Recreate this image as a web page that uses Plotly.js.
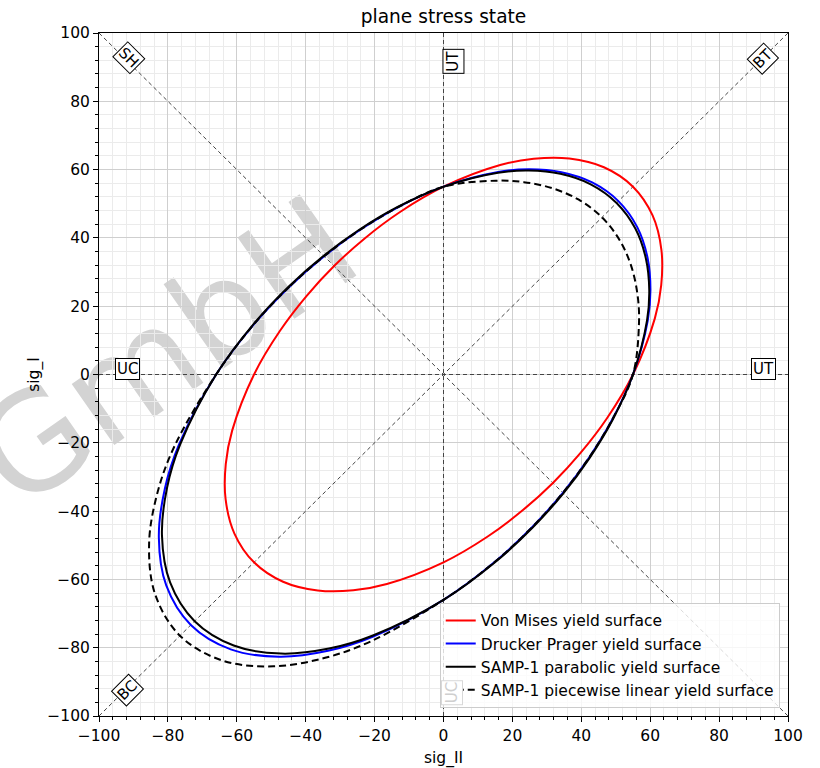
<!DOCTYPE html>
<html>
<head>
<meta charset="utf-8">
<script src="https://cdn.plot.ly/plotly-3.0.1.min.js"></script>
<style>
  html, body { margin: 0; padding: 0; background: #fff; }
  #chart { width: 820px; height: 768px; }
</style>
</head>
<body>
<div id="chart"></div>
<script>
// ---- Data (sig_II = x, sig_I = y) ----
var vonMisesX = [-31.76,-39.78,-47.51,-55.00,-61.35,-63.20,-63.25,-60.69,-55.00,-46.57,-36.52,-26.18,-16.44,0,12.73,22.97,31.76,39.78,47.51,55,61.35,63.20,63.25,60.69,55.00,46.57,36.52,26.18,16.44,0,-12.73,-22.97,-31.76];
var vonMisesY = [31.76,22.97,12.73,0,-16.44,-26.18,-36.52,-46.57,-55.00,-60.69,-63.25,-63.20,-61.35,-55,-47.51,-39.78,-31.76,-22.97,-12.73,0,16.44,26.18,36.52,46.57,55.00,60.69,63.25,63.20,61.35,55,47.51,39.78,31.76];

var druckerX = [-34.64,-44.65,-55.00,-66,-76.79,-80.90,-82.63,-80.48,-73.34,-61.76,-47.71,-33.51,-20.57,0,14.74,25.78,34.64,42.23,49.02,55,59.30,60.07,59.23,56.24,50.77,43.15,34.20,24.88,15.89,0,-13.13,-24.38,-34.64];
var druckerY = [34.64,25.78,14.74,0,-20.57,-33.51,-47.71,-61.76,-73.34,-80.48,-82.63,-80.90,-76.79,-66,-55.00,-44.65,-34.64,-24.38,-13.13,0,15.89,24.88,34.20,43.15,50.77,56.24,59.23,60.07,59.30,55,49.02,42.23,34.64];

var parabolicX = [-34.79,-44.82,-55.14,-66,-76.43,-80.26,-81.72,-79.36,-72.24,-60.89,-47.18,-33.24,-20.48,0,14.78,25.88,34.79,42.38,49.14,55,59.08,59.72,58.76,55.69,50.24,42.73,33.92,24.74,15.83,0,-13.17,-24.47,-34.79];
var parabolicY = [34.79,25.88,14.78,0,-20.48,-33.24,-47.18,-60.89,-72.24,-79.36,-81.72,-80.26,-76.43,-66,-55.14,-44.82,-34.79,-24.47,-13.17,0,15.83,24.74,33.92,42.73,50.24,55.69,58.76,59.72,59.08,55,49.14,42.38,34.79];

var piecewiseX = [-34.64,-44.65,-55.00,-66,-78.05,-82.96,-85.45,-83.74,-76.50,-64.26,-49.34,-34.36,-20.91,0,14.74,25.78,34.64,42.23,49.02,55,56.75,56.32,54.57,51.18,46.01,39.27,31.51,23.33,15.20,0,-13.13,-24.38,-34.64];
var piecewiseY = [34.64,25.78,14.74,0,-20.91,-34.36,-49.34,-64.26,-76.50,-83.74,-85.45,-82.96,-78.05,-66,-55.00,-44.65,-34.64,-24.38,-13.13,0,15.20,23.33,31.51,39.27,46.01,51.18,54.57,56.32,56.75,55,49.02,42.23,34.64];

var seriesNames = ['Von Mises yield surface','Drucker Prager yield surface','SAMP-1 parabolic yield surface','SAMP-1 piecewise linear yield surface'];

// reference lines (axes of the load cases)
var refSpan = [-100, 100];
var refSpanRev = [100, -100];
var refZero = [0, 0];

// load-case labels
var labelText  = ['UT', 'UC', 'UT', 'UC', 'BT', 'BC', 'SH'];
var labelX     = [93, -91.6, 2.8, 2.5, 92.6, -91.7, -91.3];
var labelY     = [1.6, 1.6, 91.6, -93.3, 92.4, -92.4, 92.6];
var labelAngle = [0, 0, -90, -90, -45, -45, 45];
var labelFaded = [false, false, false, true, false, false, false];

var xTickVals = [-100,-80,-60,-40,-20,0,20,40,60,80,100];
var yTickVals = [-100,-80,-60,-40,-20,0,20,40,60,80,100];

// watermark
var watermarkText = 'GmbH';

// ---- Traces ----
var refStyle = {color: '#444444', width: 1, dash: '4px,3px'};
var traces = [
  {x: refSpan, y: refZero, mode: 'lines', line: refStyle, showlegend: false, hoverinfo: 'skip'},
  {x: refZero, y: refSpan, mode: 'lines', line: refStyle, showlegend: false, hoverinfo: 'skip'},
  {x: refSpan, y: refSpan, mode: 'lines', line: refStyle, showlegend: false, hoverinfo: 'skip'},
  {x: refSpan, y: refSpanRev, mode: 'lines', line: refStyle, showlegend: false, hoverinfo: 'skip'},
  {x: vonMisesX, y: vonMisesY, mode: 'lines', name: seriesNames[0],
   line: {color: '#ff0000', width: 2, shape: 'spline', smoothing: 1}},
  {x: druckerX, y: druckerY, mode: 'lines', name: seriesNames[1],
   line: {color: '#0000ff', width: 2, shape: 'spline', smoothing: 1}},
  {x: parabolicX, y: parabolicY, mode: 'lines', name: seriesNames[2],
   line: {color: '#000000', width: 2, shape: 'spline', smoothing: 1}},
  {x: piecewiseX, y: piecewiseY, mode: 'lines', name: seriesNames[3],
   line: {color: '#000000', width: 2, dash: '7px,4px', shape: 'spline', smoothing: 1}}
];

var FONT = 'DejaVu Sans, Liberation Sans, sans-serif';
var annotations = labelText.map(function (t, i) {
  var faded = labelFaded[i];
  return {
    x: labelX[i], y: labelY[i], xref: 'x', yref: 'y', text: t,
    showarrow: false, textangle: labelAngle[i],
    font: {family: FONT, size: 15, color: faded ? '#cfcfcf' : '#000000'},
    bgcolor: '#ffffff', bordercolor: faded ? '#d8d8d8' : '#000000',
    borderwidth: 1, borderpad: 1, xanchor: 'center', yanchor: 'middle'
  };
});

function axis(titleText, tickVals, standoff) {
  return {
    range: [-100, 100], autorange: false,
    tickmode: 'array', tickvals: tickVals,
    ticks: 'outside', ticklen: 5, tickwidth: 1, tickcolor: '#000',
    tickfont: {family: FONT, size: 15.5, color: '#000'},
    showline: true, linecolor: '#000', linewidth: 1, mirror: true,
    showgrid: true, gridcolor: '#cfcfcf', gridwidth: 1,
    zeroline: false,
    minor: {dtick: 4, tick0: 0, ticks: 'outside', ticklen: 3, tickcolor: '#000',
            showgrid: true, gridcolor: '#ebebeb', gridwidth: 1},
    title: {text: titleText, font: {family: FONT, size: 15.5, color: '#000'}, standoff: standoff},
    automargin: false, fixedrange: true
  };
}

var layout = {
  width: 820, height: 768,
  margin: {l: 99, r: 32, t: 33, b: 52, pad: 0},
  paper_bgcolor: '#ffffff', plot_bgcolor: '#ffffff',
  font: {family: FONT, size: 15.5, color: '#000'},
  title: {text: 'plane stress state', font: {family: FONT, size: 18.6, color: '#000'},
          x: 0.5, xanchor: 'center', y: 0.979, yanchor: 'middle', xref: 'paper', yref: 'container'},
  xaxis: axis('sig_II', xTickVals, 8),
  yaxis: axis('sig_I', yTickVals, 3),
  showlegend: true,
  legend: {
    x: 0.988, xanchor: 'right', y: 0.012, yanchor: 'bottom',
    bgcolor: 'rgba(255,255,255,0.8)', bordercolor: '#cccccc', borderwidth: 1,
    font: {family: FONT, size: 15.5, color: '#000'},
    traceorder: 'normal'
  },
  annotations: annotations,
  shapes: [{
    type: 'rect', xref: 'paper', yref: 'paper',
    x0: 0.0835, x1: 0.0935, y0: 0.5405, y1: 0.5505,
    line: {width: 0}, fillcolor: 'rgba(0,0,0,0)', layer: 'below',
    label: {text: watermarkText, textangle: -35, textposition: 'middle center',
            font: {family: FONT, size: 136, color: '#d3d3d3'}}
  }]
};

Plotly.newPlot('chart', traces, layout, {staticPlot: true, displayModeBar: false});
</script>
</body>
</html>
